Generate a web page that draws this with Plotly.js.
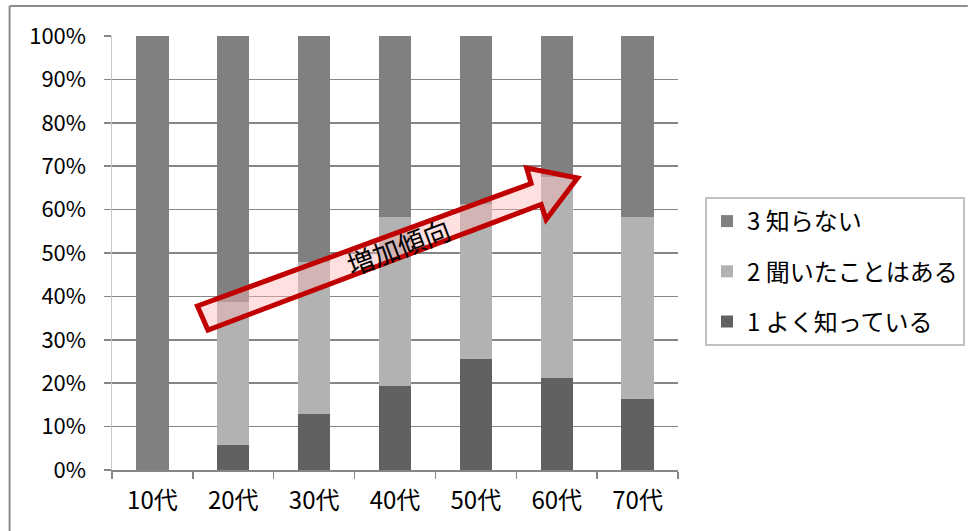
<!DOCTYPE html>
<html>
<head>
<meta charset="utf-8">
<script src="https://cdn.plot.ly/plotly-3.0.1.min.js"></script>
<style>
  html, body { margin: 0; padding: 0; background: #ffffff; }
  #chart { width: 968px; height: 531px; }
</style>
</head>
<body>
<div id="chart"></div>
<script>
// Age groups on the x axis
const ageGroups = ['10代', '20代', '30代', '40代', '50代', '60代', '70代'];

// Share of respondents per answer (%), bottom to top of each stacked bar
const knowWell    = [0, 5.8, 12.8, 19.4, 25.5, 21.2, 16.4];   // 1 よく知っている
const heardOf     = [0, 33.0, 35.2, 38.8, 35.9, 46.3, 41.9];  // 2 聞いたことはある
const dontKnow    = [100, 61.2, 52.0, 41.8, 38.6, 32.5, 41.7]; // 3 知らない

const seriesNames = ['1 よく知っている', '2 聞いたことはある', '3 知らない'];
const yTickVals   = [0, 10, 20, 30, 40, 50, 60, 70, 80, 90, 100];
const yTickLabels = ['0%', '10%', '20%', '30%', '40%', '50%', '60%', '70%', '80%', '90%', '100%'];

const FONT = '"Noto Sans CJK JP", "Noto Sans", sans-serif';

// Plot-area geometry in pixels, used to place the decorations in paper space
const W = 968, H = 531;
const M = { l: 111.5, r: W - 678, t: 36, b: H - 470 };
const PW = W - M.l - M.r, PH = H - M.t - M.b;
const px = x => (x - M.l) / PW;
const py = y => (H - M.b - y) / PH;

const barColors = ['#616161', '#b2b2b2', '#808080'];
const seriesValues = [knowWell, heardOf, dontKnow];

// legend lists the top segment first
const traces = seriesValues.map((vals, i) => ({
  type: 'bar',
  name: seriesNames[i],
  x: ageGroups,
  y: vals,
  width: 0.4,
  marker: { color: barColors[i], line: { width: 0 } },
  legendgroup: 'g' + i,
  legendrank: 3 - i,
  hoverinfo: 'x+y+name'
}));

// Outline of the "increasing trend" arrow (pixel positions)
const arrowPts = [
  [197, 306], [531, 183.5], [526.5, 168], [577.5, 178],
  [546, 219.5], [541, 204.5], [207.5, 330]
];
const arrowPath = 'M' + arrowPts.map(p => px(p[0]).toFixed(4) + ',' + py(p[1]).toFixed(4)).join(' L') + ' Z';

const layout = {
  width: W,
  height: H,
  margin: Object.assign({ autoexpand: false }, M),
  paper_bgcolor: '#ffffff',
  plot_bgcolor: '#ffffff',
  barmode: 'stack',
  font: { family: FONT, size: 21, color: '#000000' },
  showlegend: true,
  legend: {
    x: px(705), xanchor: 'left',
    y: py(197), yanchor: 'top',
    bgcolor: '#ffffff',
    bordercolor: '#c0c0c0',
    borderwidth: 2,
    traceorder: 'grouped',
    tracegroupgap: 16,
    font: { family: FONT, size: 24, color: '#000000' }
  },
  xaxis: {
    type: 'category',
    automargin: false,
    showgrid: false,
    showline: true,
    linecolor: '#868686',
    linewidth: 1.5,
    ticks: 'outside',
    tickson: 'boundaries',
    ticklen: 7,
    tickwidth: 1.5,
    tickcolor: '#868686',
    ticklabelstandoff: 9,
    tickfont: { family: FONT, size: 24, color: '#000000' },
    zeroline: false
  },
  yaxis: {
    range: [0, 100],
    automargin: false,
    tickvals: yTickVals,
    ticktext: yTickLabels,
    showgrid: true,
    gridcolor: '#868686',
    gridwidth: 1.5,
    showline: true,
    linecolor: '#c8c8c8',
    linewidth: 1.5,
    ticks: 'outside',
    ticklen: 7,
    tickwidth: 1.5,
    tickcolor: '#868686',
    ticklabelstandoff: 13,
    tickfont: { family: FONT, size: 22, color: '#000000' },
    zeroline: false
  },
  shapes: [
    // frame lines along the top and left of the figure
    { type: 'line', xref: 'paper', yref: 'paper', x0: px(9), x1: px(968), y0: py(6), y1: py(6),
      line: { color: '#8c8c8c', width: 2 }, layer: 'above' },
    { type: 'line', xref: 'paper', yref: 'paper', x0: px(9), x1: px(9), y0: py(6), y1: py(531),
      line: { color: '#8c8c8c', width: 2 }, layer: 'above' },
    // trend arrow
    { type: 'path', xref: 'paper', yref: 'paper', path: arrowPath,
      fillcolor: 'rgba(255,183,183,0.43)', line: { color: '#c00000', width: 5 }, layer: 'above' }
  ],
  annotations: [
    { xref: 'paper', yref: 'paper', x: px(398), y: py(246), text: '増加傾向',
      showarrow: false, textangle: -20.6, xanchor: 'center', yanchor: 'middle',
      font: { family: FONT, size: 27, color: '#000000' } }
  ]
};

Plotly.newPlot('chart', traces, layout, { staticPlot: true, displayModeBar: false });
</script>
</body>
</html>
